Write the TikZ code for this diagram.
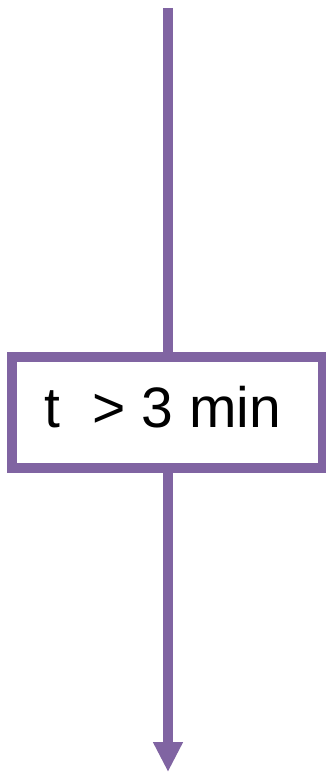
\documentclass[tikz,border=0pt]{standalone}
\usepackage{fontspec}
\setmainfont{Liberation Sans}
\usetikzlibrary{arrows.meta}
\definecolor{lineviolet}{RGB}{128,100,162}
\tikzset{
  flowline/.style={draw=lineviolet, line width=9.5pt},
  condbox/.style={draw=lineviolet, line width=9.5pt, fill=white, inner sep=0pt,
    minimum width=310.5pt, minimum height=111pt},
  condtext/.style={inner sep=0pt, font=\fontsize{57}{64}\selectfont}
}
\begin{document}
\begin{tikzpicture}[x=1pt,y=-1pt]
\useasboundingbox (0,0) rectangle (325,773);
\node[condbox] (box) at (167.25,412.5) {};
\node[condtext, anchor=base] (label) at (163,427.5) {t\ \ > 3 min};
\coordinate (top) at (168,8);
\coordinate (bot) at (168,772);
\draw[flowline] (top) -- (top |- box.north);
\draw[flowline, -{Triangle[width=28pt,length=30pt]}] (bot |- box.south) -- (bot);
\end{tikzpicture}
\end{document}
